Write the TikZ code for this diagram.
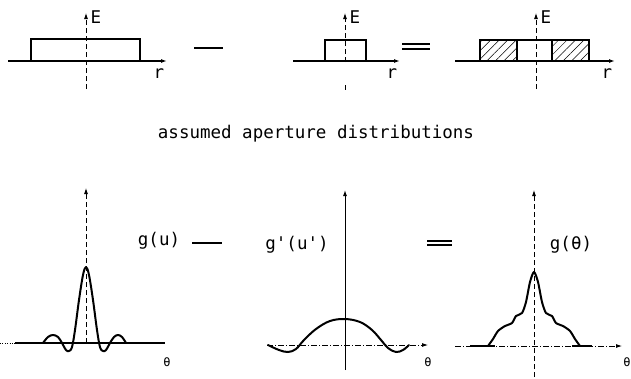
\documentclass[tikz,border=0pt]{standalone}
\usepackage{fontspec}
\setmonofont{DejaVu Sans Mono}
\usetikzlibrary{arrows.meta,patterns.meta}

\begin{document}
\begin{tikzpicture}[x=1pt,y=-1pt,>={Latex[length=6pt,width=4pt]},
  lbl/.style={font=\ttfamily\fontsize{17.5}{17.5}\selectfont,inner sep=0pt},
  sm/.style={font=\ttfamily\fontsize{12}{12}\selectfont,inner sep=0pt},
  axisline/.style={line width=1.6pt},
  curve/.style={line width=2pt,line join=round,line cap=round},
  vaxis/.style={line width=0.8pt,dash pattern=on 5pt off 3pt},
  rectbox/.style={line width=1.3pt},
  hatch/.style={pattern={Lines[angle=45,distance=6pt,line width=0.5pt]}}]
  \useasboundingbox (0,0) rectangle (631,378);

  % top row: aperture distributions
  \foreach \xa/\xb/\ax/\yb/\nm in {8/167/86/89/a,293/400/345/62/b,455/615/536/89/c}{
    \draw[axisline,->] (\xa,61) -- (\xb,61);
    \draw[vaxis,->] (\ax,\yb) -- (\ax,13);
    \node[lbl] (E\nm) at (\ax+10,17) {E};
    \node[lbl] (r\nm) at (\xb-8,74) {r};
  }
  \draw[rectbox] (31,61) rectangle (140,39);
  \draw[rectbox] (325,61) rectangle (366,40);
  \draw[line width=0.8pt] (345,85) -- (345,90);
  \draw[rectbox,hatch] (480,61) rectangle (517,40);
  \draw[rectbox] (517,61) rectangle (552,40);
  \draw[rectbox,hatch] (552,61) rectangle (589,40);

  \draw[line width=1.6pt] (194,48) -- (223,48);
  \draw[line width=1.3pt] (402,44) -- (430,44) (402,49) -- (430,49);

  \node[lbl] (cap) at (316,134) {assumed aperture distributions};

  % bottom row: patterns
  \draw[dotted] (0,343) -- (15,343);
  \draw[axisline] (15,343) -- (165,343);
  \draw[vaxis,->] (86,343) -- (86,188);
  \draw[curve] plot[smooth,tension=0.6] coordinates {(43,343) (48,337) (53,335) (58,337)
    (62,343) (66,350) (69,351) (72,347) (75,330) (79,300) (83,275) (86,267) (89,275)
    (93,300) (97,330) (100,347) (103,351) (106,350) (110,343) (114,337) (118,335)
    (122,337) (126,343)};
  \node[sm] (t1) at (167,362) {θ};
  \node[lbl] (gu) at (159,241) {g(u)};
  \draw[line width=1.6pt] (192,243) -- (222,243);

  \draw[line width=0.8pt,dash pattern=on 6pt off 2pt on 1pt off 2pt,->] (267,345) -- (428,345);
  \draw[line width=1pt,->] (345,370) -- (345,190);
  \draw[curve] plot[smooth,tension=0.6] coordinates {(268,345) (279,350) (288,352)
    (296,349) (304,340) (316,329) (330,321) (345,319) (360,322) (372,330) (381,340)
    (388,348) (396,352) (403,350) (409,345)};
  \node[sm] (t2) at (428,362) {θ};
  \node[lbl] (gp) at (297,245) {g'(u')};
  \draw[line width=1.3pt] (427,241) -- (452,241) (427,245) -- (452,245);

  \draw[line width=0.8pt,dash pattern=on 6pt off 2pt on 1pt off 2pt,->] (455,346) -- (622,346);
  \draw[line width=1.6pt] (470,346) -- (495,346) (572,346) -- (592,346);
  \draw[vaxis,->] (534,377) -- (534,190);
  \draw[curve] plot[smooth,tension=0.45] coordinates {(488,346) (493,339) (498,331)
    (505,326) (512,323) (516,316) (522,313) (526,302) (530,282) (534,272) (538,282)
    (542,302) (546,313) (552,316) (556,323) (563,326) (570,331) (575,339) (580,346)};
  \node[sm] (t3) at (627,362) {θ};
  \node[lbl] (gt) at (571,245) {g(θ)};
\end{tikzpicture}
\end{document}
